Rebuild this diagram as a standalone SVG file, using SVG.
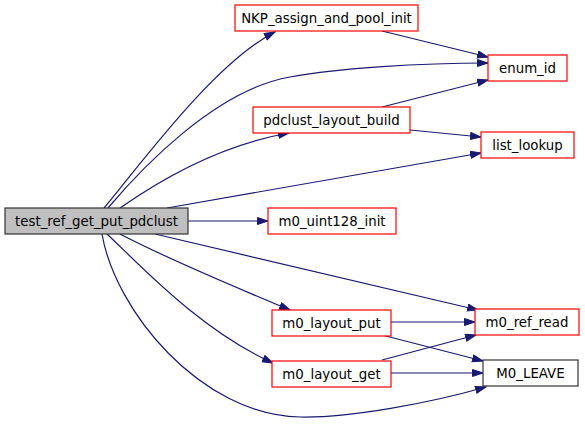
<svg xmlns="http://www.w3.org/2000/svg" width="585" height="425" viewBox="0 0 585 425">
<style>
.n rect{fill:#fff;stroke:#ff0000;stroke-width:1.2}
.n text{font-family:"DejaVu Sans",sans-serif;font-size:13.33px;fill:#000;text-anchor:middle}
#main rect{fill:#bfbfbf;stroke:#333}
#M0_LEAVE rect{stroke:#333}
#edges path{fill:none;stroke:#191970;stroke-width:1.2;marker-end:url(#ah)}
</style>
<defs>
<marker id="ah" markerUnits="userSpaceOnUse" markerWidth="12" markerHeight="9" refX="11" refY="4" orient="auto">
<path d="M0.5,0.5 L11,4 L0.5,7.5 z" fill="#191970" stroke="#191970"/>
</marker>
</defs>
<rect width="585" height="425" fill="#fff"/>
<g id="edges">
<path d="M104,208 C140,165 215,62 275,32"/>
<path d="M108,208 C140,170 215,90 290,77 C340,68 420,63 488,63"/>
<path d="M382,31 L488,57"/>
<path d="M382,107 L488,80"/>
<path d="M120,208 C160,180 220,145 289,133"/>
<path d="M410,130 L481,137"/>
<path d="M167,208 L481,153"/>
<path d="M188,221 L268,221"/>
<path d="M155,234 L478,310"/>
<path d="M120,234 C160,255 230,285 290,310"/>
<path d="M107,234 C140,265 200,330 273,363"/>
<path d="M102,234 C115,310 200,415 300,417 C350,418 430,403 486,387"/>
<path d="M391,322 L475,322"/>
<path d="M382,335 L483,361"/>
<path d="M382,360 L476,335"/>
<path d="M391,373 L483,373"/>
</g>
<g id="main" class="n"><rect x="5" y="208" width="183" height="26"/><text x="96.5" y="225.5">test_ref_get_put_pdclust</text></g>
<g id="NKP_assign_and_pool_init" class="n"><rect x="235" y="5" width="183" height="26"/><text x="326.5" y="22.5">NKP_assign_and_pool_init</text></g>
<g id="pdclust_layout_build" class="n"><rect x="253" y="107" width="157" height="26"/><text x="331.5" y="124.5">pdclust_layout_build</text></g>
<g id="enum_id" class="n"><rect x="488" y="55" width="79" height="26"/><text x="527.5" y="72.5">enum_id</text></g>
<g id="list_lookup" class="n"><rect x="481" y="132" width="93" height="26"/><text x="527.5" y="149.5">list_lookup</text></g>
<g id="m0_uint128_init" class="n"><rect x="268" y="208" width="128" height="26"/><text x="332" y="225.5">m0_uint128_init</text></g>
<g id="m0_layout_put" class="n"><rect x="272" y="310" width="119" height="26"/><text x="331.5" y="327.5">m0_layout_put</text></g>
<g id="m0_layout_get" class="n"><rect x="272" y="361" width="119" height="26"/><text x="331.5" y="378.5">m0_layout_get</text></g>
<g id="m0_ref_read" class="n"><rect x="475" y="309" width="104" height="26"/><text x="527" y="326.5">m0_ref_read</text></g>
<g id="M0_LEAVE" class="n"><rect x="483" y="360" width="95" height="26"/><text x="530.5" y="377.5">M0_LEAVE</text></g>
</svg>
